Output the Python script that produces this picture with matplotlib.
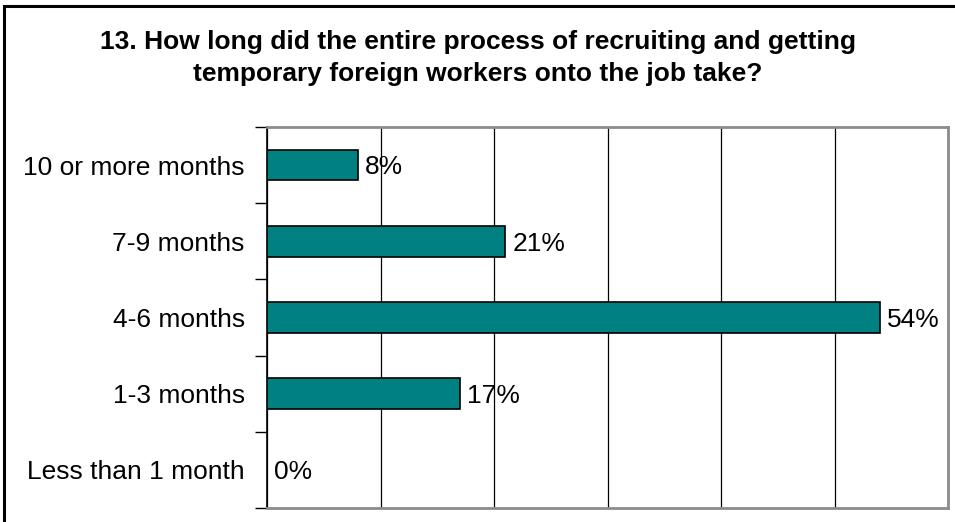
import matplotlib
matplotlib.use("Agg")
import matplotlib.pyplot as plt
from matplotlib.patches import Rectangle

plt.rcParams['font.family'] = ['Liberation Sans', 'DejaVu Sans']

# survey answers, bottom to top
categories = ['Less than 1 month', '1-3 months', '4-6 months', '7-9 months', '10 or more months']
shares = [0, 17, 54, 21, 8]
xticks = [0, 10, 20, 30, 40, 50, 60]

title = ('13. How long did the entire process of recruiting and getting\n'
         'temporary foreign workers onto the job take?')

fig = plt.figure(figsize=(9.55, 5.22), dpi=100)
W, H = 955, 522

# outer frame (cut off on the right and bottom)
fig.patches.append(Rectangle((4 / W, -0.1), 1.2, 1 - 6 / H + 0.1, transform=fig.transFigure,
                             fill=False, edgecolor='black', linewidth=2.2))

ax = fig.add_axes([267 / W, 14 / H, (948 - 267) / W, (508 - 127) / H])

y = range(len(categories))
ax.barh(y, shares, height=0.4, color='#008080', edgecolor='black', linewidth=1.2, zorder=3)

for yi, v in zip(y, shares):
    ax.text(v + 0.6, yi - 0.03, f'{v}%', va='center', ha='left', fontsize=19)

ax.set_xlim(0, 60)
ax.set_ylim(-0.5, len(categories) - 0.5)
ax.set_xticks(xticks)
ax.tick_params(axis='x', bottom=False, labelbottom=False)
ax.grid(axis='x', color='black', linewidth=0.9, zorder=0)

ax.set_yticks(y)
ax.set_yticklabels(categories, fontsize=19)
ax.set_yticks([i - 0.5 for i in range(len(categories) + 1)], minor=True)
ax.tick_params(axis='y', which='major', length=0, pad=16)
ax.tick_params(axis='y', which='minor', length=9, width=1, color='black', direction='out')

for side in ['top', 'right', 'bottom']:
    ax.spines[side].set_color('#8c8c8c')
    ax.spines[side].set_linewidth(2)
ax.spines['left'].set_color('black')
ax.spines['left'].set_linewidth(1.2)

fig.text(0.5, 1 - 58 / H, title, ha='center', va='center', fontsize=19,
         fontweight='bold', linespacing=1.45)

fig.savefig('out.png', dpi=100)
